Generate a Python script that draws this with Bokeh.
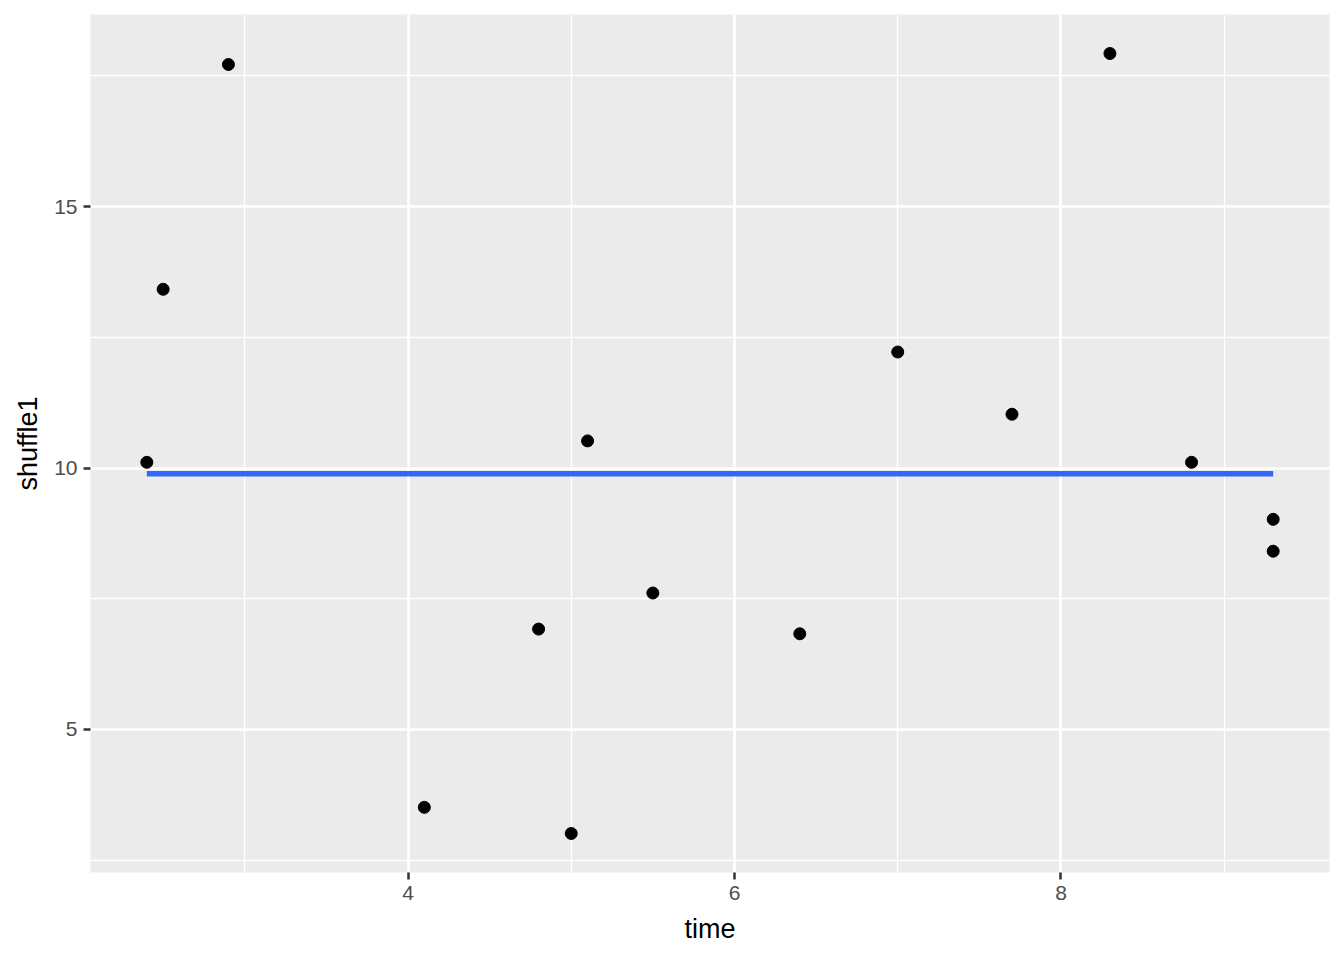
from bokeh.plotting import figure
from bokeh.models import FixedTicker, Range1d
from bokeh.embed import file_html
from bokeh.resources import INLINE

# data
time = [2.4, 2.5, 2.9, 4.1, 4.8, 5.0, 5.1, 5.5, 6.4, 7.0, 7.7, 8.3, 8.8, 9.3, 9.3]
shuffle1 = [10.11, 13.42, 17.72, 3.51, 6.92, 3.01, 10.52, 7.61, 6.83, 12.22,
            11.03, 17.93, 10.11, 9.02, 8.41]
fit_x = [2.4, 9.3]
fit_y = [9.89, 9.89]
x_ticks = [4, 6, 8]
x_minor = [3, 5, 7, 9]
y_ticks = [5, 10, 15]
y_minor = [2.5, 7.5, 12.5, 17.5]

FONT = "Liberation Sans"

p = figure(
    output_backend="svg", toolbar_location=None,
    frame_width=1239, frame_height=858,
    min_border_left=90, min_border_top=14, min_border_right=7, min_border_bottom=80,
    x_range=Range1d(2.055, 9.645), y_range=Range1d(2.264, 18.676),
    background_fill_color="#EBEBEB", border_fill_color="white",
)
p.outline_line_color = None

p.xaxis.ticker = FixedTicker(ticks=x_ticks, minor_ticks=x_minor)
p.yaxis.ticker = FixedTicker(ticks=y_ticks, minor_ticks=y_minor)

for g in (p.xgrid, p.ygrid):
    g.grid_line_color = "white"
    g.grid_line_width = 2.7
    g.minor_grid_line_color = "white"
    g.minor_grid_line_width = 1.35

for ax in (p.xaxis, p.yaxis):
    ax.axis_line_color = None
    ax.major_tick_line_color = "#333333"
    ax.major_tick_line_width = 2.5
    ax.major_tick_out = 7
    ax.major_tick_in = 0
    ax.minor_tick_line_color = None
    ax.major_label_text_font = FONT
    ax.major_label_text_font_size = "21px"
    ax.major_label_text_color = "#4D4D4D"
    ax.axis_label_text_font = FONT
    ax.axis_label_text_font_size = "27px"
    ax.axis_label_text_font_style = "normal"
    ax.axis_label_text_color = "black"

p.xaxis.axis_label = "time"
p.yaxis.axis_label = "shuffle1"
p.xaxis.major_label_standoff = 6
p.yaxis.major_label_standoff = 6
p.xaxis.axis_label_standoff = 11
p.yaxis.axis_label_standoff = 8

p.scatter(time, shuffle1, size=12, color="black")
p.line(fit_x, fit_y, line_color="#3366FF", line_width=5.5)

open("out.html", "w").write(file_html(p, INLINE))
